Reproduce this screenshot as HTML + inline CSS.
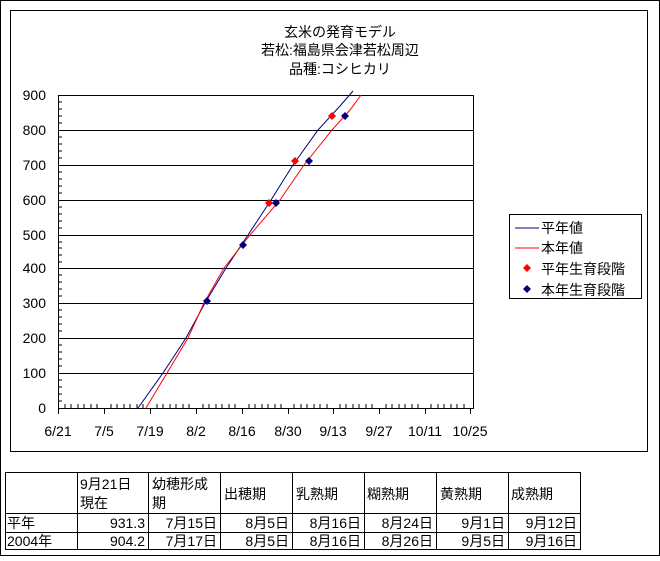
<!DOCTYPE html>
<html><head><meta charset="utf-8"><style>
body{margin:0;background:#fff}
svg text{font-family:"Liberation Sans","Noto Sans CJK JP",sans-serif;font-size:14px;fill:#000}
</style></head><body>
<svg width="660" height="556" xmlns="http://www.w3.org/2000/svg">
<rect x="0.5" y="0.5" width="659" height="555" fill="#fff" stroke="#000"/>
<rect x="10.5" y="10.5" width="637" height="441" fill="#fff" stroke="#000"/>
<text x="340" y="37" text-anchor="middle">玄米の発育モデル</text>
<text x="340" y="55" text-anchor="middle">若松:福島県会津若松周辺</text>
<text x="340" y="74" text-anchor="middle">品種:コシヒカリ</text>
<g stroke="#000" stroke-width="1">
<line x1="58" y1="95.5" x2="473" y2="95.5"/>
<line x1="58" y1="130.5" x2="473" y2="130.5"/>
<line x1="58" y1="165.5" x2="473" y2="165.5"/>
<line x1="58" y1="200.5" x2="473" y2="200.5"/>
<line x1="58" y1="235.5" x2="473" y2="235.5"/>
<line x1="58" y1="268.5" x2="473" y2="268.5"/>
<line x1="58" y1="303.5" x2="473" y2="303.5"/>
<line x1="58" y1="338.5" x2="473" y2="338.5"/>
<line x1="58" y1="373.5" x2="473" y2="373.5"/>
<line x1="58" y1="408.5" x2="473" y2="408.5"/>
<line x1="58.5" y1="95" x2="58.5" y2="409"/>
<line x1="473.5" y1="95" x2="473.5" y2="409"/>
</g>
<g id="ticks" stroke="#000"></g>
<g text-anchor="end">
<text x="46" y="100">900</text><text x="46" y="135">800</text><text x="46" y="170">700</text><text x="46" y="205">600</text><text x="46" y="240">500</text><text x="46" y="273">400</text><text x="46" y="308">300</text><text x="46" y="343">200</text><text x="46" y="378">100</text><text x="46" y="413">0</text>
</g>
<g text-anchor="middle">
<text x="58" y="436">6/21</text><text x="104" y="436">7/5</text><text x="150" y="436">7/19</text><text x="196" y="436">8/2</text><text x="242" y="436">8/16</text><text x="288" y="436">8/30</text><text x="333" y="436">9/13</text><text x="379" y="436">9/27</text><text x="425" y="436">10/11</text><text x="470" y="436">10/25</text>
</g>
<polyline fill="none" stroke="#000080" points="138,408 163,373 186,338 205,303 226,268 248,235 271,200 293,165 318,130 340,106 353,91"/>
<polyline fill="none" stroke="#ff0000" points="146,408 167,373 188,338 204,303 224,268 250,235 280,200 304,165 332,130 350,110 361,95"/>
<g fill="#ff0000"><path d="M269,199l4,4l-4,4l-4,-4z"/><path d="M295,157l4,4l-4,4l-4,-4z"/><path d="M332,112l4,4l-4,4l-4,-4z"/></g>
<g fill="#000080"><path d="M207,297l4,4l-4,4l-4,-4z"/><path d="M243,241l4,4l-4,4l-4,-4z"/><path d="M276,199l4,4l-4,4l-4,-4z"/><path d="M309,157l4,4l-4,4l-4,-4z"/><path d="M345,112l4,4l-4,4l-4,-4z"/></g>
<rect x="509.5" y="214.5" width="132" height="84" fill="#fff" stroke="#000"/>
<line x1="515" y1="228" x2="539" y2="228" stroke="#000080"/>
<line x1="515" y1="248" x2="539" y2="248" stroke="#ff0000"/>
<path d="M527,264l4,4l-4,4l-4,-4z" fill="#ff0000"/>
<path d="M527,285l4,4l-4,4l-4,-4z" fill="#000080"/>
<text x="541" y="233">平年値</text><text x="541" y="253">本年値</text><text x="541" y="274">平年生育段階</text><text x="541" y="295">本年生育段階</text>
<g stroke="#000" fill="none">
<rect x="5.5" y="472.5" width="575" height="77"/>
<line x1="5" y1="513.5" x2="581" y2="513.5"/>
<line x1="5" y1="532.5" x2="581" y2="532.5"/>
<line x1="77.5" y1="472" x2="77.5" y2="550"/>
<line x1="148.5" y1="472" x2="148.5" y2="550"/>
<line x1="220.5" y1="472" x2="220.5" y2="550"/>
<line x1="292.5" y1="472" x2="292.5" y2="550"/>
<line x1="364.5" y1="472" x2="364.5" y2="550"/>
<line x1="436.5" y1="472" x2="436.5" y2="550"/>
<line x1="508.5" y1="472" x2="508.5" y2="550"/>
</g>
<g style="font-size:13px">
<text x="80" y="489">9月21日</text><text x="80" y="508">現在</text>
<text x="152" y="489">幼穂形成</text><text x="152" y="508">期</text>
<text x="224" y="499">出穂期</text><text x="296" y="499">乳熟期</text><text x="367" y="499">糊熟期</text><text x="440" y="499">黄熟期</text><text x="511" y="499">成熟期</text>
<text x="7" y="528">平年</text><text x="7" y="546">2004年</text>
<g text-anchor="end">
<text x="145" y="528">931.3</text><text x="217" y="528">7月15日</text><text x="289" y="528">8月5日</text><text x="361" y="528">8月16日</text><text x="433" y="528">8月24日</text><text x="505" y="528">9月1日</text><text x="577" y="528">9月12日</text>
<text x="145" y="546">904.2</text><text x="217" y="546">7月17日</text><text x="289" y="546">8月5日</text><text x="361" y="546">8月16日</text><text x="433" y="546">8月26日</text><text x="505" y="546">9月5日</text><text x="577" y="546">9月16日</text>
</g></g>
<g stroke="#000">
<path d="M58,102h4M58,109h4M58,116h4M58,123h4M58,137h4M58,144h4M58,151h4M58,158h4M58,172h4M58,179h4M58,186h4M58,193h4M58,207h4M58,214h4M58,221h4M58,228h4M58,242h4M58,248h4M58,255h4M58,262h4M58,275h4M58,282h4M58,289h4M58,296h4M58,310h4M58,317h4M58,324h4M58,331h4M58,345h4M58,352h4M58,359h4M58,366h4M58,380h4M58,387h4M58,394h4M58,401h4"/>
<path d="M58.5,408v6M104.5,408v6M150.5,408v6M196.5,408v6M242.5,408v6M288.5,408v6M333.5,408v6M379.5,408v6M425.5,408v6M470.5,408v6"/>
<path d="M65,408v-4M71,408v-4M78,408v-4M84,408v-4M91,408v-4M97,408v-4M111,408v-4M117,408v-4M124,408v-4M130,408v-4M137,408v-4M143,408v-4M157,408v-4M163,408v-4M170,408v-4M176,408v-4M183,408v-4M189,408v-4M203,408v-4M209,408v-4M216,408v-4M222,408v-4M229,408v-4M235,408v-4M249,408v-4M255,408v-4M262,408v-4M268,408v-4M275,408v-4M281,408v-4M294,408v-4M301,408v-4M307,408v-4M314,408v-4M320,408v-4M327,408v-4M340,408v-4M346,408v-4M353,408v-4M359,408v-4M366,408v-4M372,408v-4M386,408v-4M392,408v-4M399,408v-4M405,408v-4M412,408v-4M418,408v-4M431,408v-4M438,408v-4M444,408v-4M451,408v-4M457,408v-4M464,408v-4"/>
</g>
</svg>
</body></html>
